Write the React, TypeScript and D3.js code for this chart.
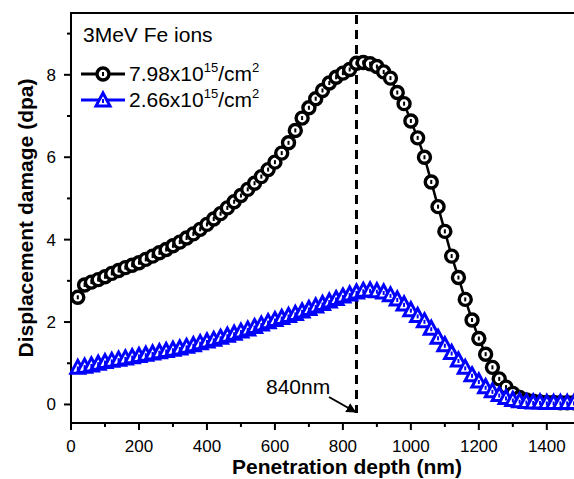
import React, { useEffect, useRef } from 'react';
import * as d3 from 'd3';

// penetration depth (nm), 20 nm steps
const depth = [
  20, 40, 60, 80, 100, 120, 140, 160, 180, 200, 220, 240, 260, 280, 300, 320, 340, 360, 380, 400,
  420, 440, 460, 480, 500, 520, 540, 560, 580, 600, 620, 640, 660, 680, 700, 720, 740, 760, 780, 800,
  820, 840, 860, 880, 900, 920, 940, 960, 980, 1000, 1020, 1040, 1060, 1080, 1100, 1120, 1140, 1160,
  1180, 1200, 1220, 1240, 1260, 1280, 1300, 1320, 1340, 1360, 1380, 1400, 1420, 1440, 1460, 1480,
];

// 7.98x10^15 /cm2
const highDose = [
  2.6, 2.9, 2.97, 3.03, 3.1, 3.18, 3.25, 3.32, 3.38, 3.44, 3.52, 3.6, 3.68, 3.76, 3.85, 3.94, 4.04, 4.14, 4.25, 4.37,
  4.5, 4.63, 4.77, 4.92, 5.07, 5.22, 5.37, 5.53, 5.7, 5.88, 6.1, 6.35, 6.65, 6.95, 7.2, 7.42, 7.62, 7.8, 7.94, 8.04,
  8.13, 8.28, 8.3, 8.27, 8.2, 8.07, 7.92, 7.57, 7.3, 6.88, 6.47, 6.0, 5.4, 4.8, 4.2, 3.6, 3.08, 2.55,
  2.05, 1.6, 1.22, 0.9, 0.62, 0.42, 0.27, 0.17, 0.11, 0.08, 0.06, 0.05, 0.05, 0.04, 0.04, 0.04,
];

// 2.66x10^15 /cm2
const lowDose = [
  0.9, 0.93, 0.96, 1.0, 1.04, 1.07, 1.1, 1.13, 1.16, 1.19, 1.22, 1.25, 1.28, 1.31, 1.34, 1.37, 1.41, 1.45, 1.5, 1.54,
  1.58, 1.63, 1.68, 1.73, 1.78, 1.83, 1.89, 1.95, 2.01, 2.06, 2.11, 2.16, 2.21, 2.27, 2.33, 2.39, 2.45, 2.51, 2.57, 2.63,
  2.68, 2.73, 2.77, 2.78, 2.76, 2.73, 2.66, 2.56, 2.44, 2.3, 2.16, 2.03, 1.85, 1.63, 1.45, 1.26, 1.08, 0.9,
  0.72, 0.57, 0.43, 0.33, 0.24, 0.17, 0.12, 0.09, 0.07, 0.06, 0.06, 0.05, 0.05, 0.05, 0.05, 0.05,
];

const xMajor = [0, 200, 400, 600, 800, 1000, 1200, 1400];
const xMinor = [100, 300, 500, 700, 900, 1100, 1300];
const yMajor = [0, 2, 4, 6, 8];
const yMinor = [1, 3, 5, 7, 9];
const peakDepth = 840;

const W = 574;
const H = 479;
const FONT = '"Liberation Sans", Arial, sans-serif';

const App = () => {
  const ref = useRef<SVGSVGElement>(null);

  useEffect(() => {
    const svg = d3.select(ref.current);
    svg.selectAll('*').remove();

    const left = 71, right = 574, top = 13, bottom = 423;
    const x = d3.scaleLinear().domain([0, 1480]).range([left, right]);
    const y = d3.scaleLinear().domain([-0.45, 9.5]).range([bottom, top]);

    // frame
    svg.append('path')
      .attr('d', `M${right},${top}H${left}V${bottom}H${right}`)
      .attr('fill', 'none')
      .attr('stroke', '#000')
      .attr('stroke-width', 2);

    // x ticks
    xMajor.forEach((v) => {
      svg.append('line').attr('x1', x(v)).attr('x2', x(v)).attr('y1', bottom).attr('y2', bottom + 7)
        .attr('stroke', '#000').attr('stroke-width', 2);
      svg.append('text').attr('x', x(v)).attr('y', bottom + 29)
        .attr('text-anchor', 'middle').attr('font-family', FONT).attr('font-size', 17)
        .text(v);
    });
    xMinor.forEach((v) => {
      svg.append('line').attr('x1', x(v)).attr('x2', x(v)).attr('y1', bottom).attr('y2', bottom + 4)
        .attr('stroke', '#000').attr('stroke-width', 2);
    });

    // y ticks
    yMajor.forEach((v) => {
      svg.append('line').attr('x1', left - 7).attr('x2', left).attr('y1', y(v)).attr('y2', y(v))
        .attr('stroke', '#000').attr('stroke-width', 2);
      svg.append('text').attr('x', left - 15).attr('y', y(v) + 6)
        .attr('text-anchor', 'end').attr('font-family', FONT).attr('font-size', 17)
        .text(v);
    });
    yMinor.forEach((v) => {
      svg.append('line').attr('x1', left - 4).attr('x2', left).attr('y1', y(v)).attr('y2', y(v))
        .attr('stroke', '#000').attr('stroke-width', 2);
    });

    // axis titles
    svg.append('text')
      .attr('x', 347).attr('y', 474)
      .attr('text-anchor', 'middle').attr('font-family', FONT).attr('font-size', 21).attr('font-weight', 'bold')
      .text('Penetration depth (nm)');
    svg.append('text')
      .attr('transform', `translate(33,${(top + bottom) / 2}) rotate(-90)`)
      .attr('text-anchor', 'middle').attr('font-family', FONT).attr('font-size', 21).attr('font-weight', 'bold')
      .text('Displacement damage (dpa)');

    // dashed peak line
    svg.append('line')
      .attr('x1', x(peakDepth)).attr('x2', x(peakDepth))
      .attr('y1', top + 2).attr('y2', 413)
      .attr('stroke', '#000').attr('stroke-width', 3)
      .attr('stroke-dasharray', '9,6');

    const line = d3.line<number>()
      .x((d, i) => x(depth[i]))
      .y((d) => y(d));

    const circle = (g: any, cx: number, cy: number) => {
      g.append('circle').attr('cx', cx).attr('cy', cy).attr('r', 6)
        .attr('fill', '#fff').attr('stroke', '#000').attr('stroke-width', 3.4);
      g.append('rect').attr('x', cx - 1).attr('y', cy - 2).attr('width', 2).attr('height', 4).attr('fill', '#000');
    };
    const triangle = (g: any, cx: number, cy: number) => {
      g.append('path')
        .attr('d', `M${cx},${cy - 7}L${cx + 7},${cy + 6}L${cx - 7},${cy + 6}Z`)
        .attr('fill', '#fff').attr('stroke', '#0000ff').attr('stroke-width', 3)
        .attr('stroke-linejoin', 'miter');
      g.append('rect').attr('x', cx - 1).attr('y', cy - 1).attr('width', 2).attr('height', 4).attr('fill', '#0000ff');
    };

    // high dose series
    const g1 = svg.append('g');
    g1.append('path').attr('d', line(highDose)).attr('fill', 'none')
      .attr('stroke', '#000').attr('stroke-width', 2.5);
    highDose.forEach((v, i) => circle(g1, x(depth[i]), y(v)));

    // low dose series
    const g2 = svg.append('g');
    g2.append('path').attr('d', line(lowDose)).attr('fill', 'none')
      .attr('stroke', '#0000ff').attr('stroke-width', 2.5);
    lowDose.forEach((v, i) => triangle(g2, x(depth[i]), y(v)));

    // legend
    svg.append('text').attr('x', 83).attr('y', 42)
      .attr('font-family', FONT).attr('font-size', 21).text('3MeV Fe ions');

    const lg = svg.append('g');
    lg.append('line').attr('x1', 81).attr('x2', 125).attr('y1', 74).attr('y2', 74)
      .attr('stroke', '#000').attr('stroke-width', 3);
    circle(lg, 103, 74);
    lg.append('line').attr('x1', 81).attr('x2', 125).attr('y1', 100).attr('y2', 100)
      .attr('stroke', '#0000ff').attr('stroke-width', 3);
    triangle(lg, 103, 100);

    const label = (ty: number, val: string) => {
      const t = lg.append('text').attr('x', 129).attr('y', ty)
        .attr('font-family', FONT).attr('font-size', 21);
      t.append('tspan').text(`${val}x10`);
      t.append('tspan').attr('font-size', 13).attr('dy', -9).text('15');
      t.append('tspan').attr('font-size', 21).attr('dy', 9).text('/cm');
      t.append('tspan').attr('font-size', 13).attr('dy', -9).text('2');
    };
    label(81, '7.98');
    label(107, '2.66');

    // annotation
    svg.append('defs').append('marker')
      .attr('id', 'arrowhead').attr('viewBox', '0 0 10 10')
      .attr('refX', 9).attr('refY', 5)
      .attr('markerWidth', 5).attr('markerHeight', 5)
      .attr('orient', 'auto')
      .append('path').attr('d', 'M0,0L10,5L0,10Z').attr('fill', '#000');
    svg.append('text').attr('x', 266).attr('y', 394)
      .attr('font-family', FONT).attr('font-size', 21).text('840nm');
    svg.append('line')
      .attr('x1', 329).attr('y1', 397).attr('x2', x(peakDepth) - 1).attr('y2', 412)
      .attr('stroke', '#000').attr('stroke-width', 2)
      .attr('marker-end', 'url(#arrowhead)');
  }, []);

  return (
    <svg ref={ref} width={W} height={H}
      style={{ position: 'absolute', left: 0, top: 0, background: '#fff' }} />
  );
};

export default App;
